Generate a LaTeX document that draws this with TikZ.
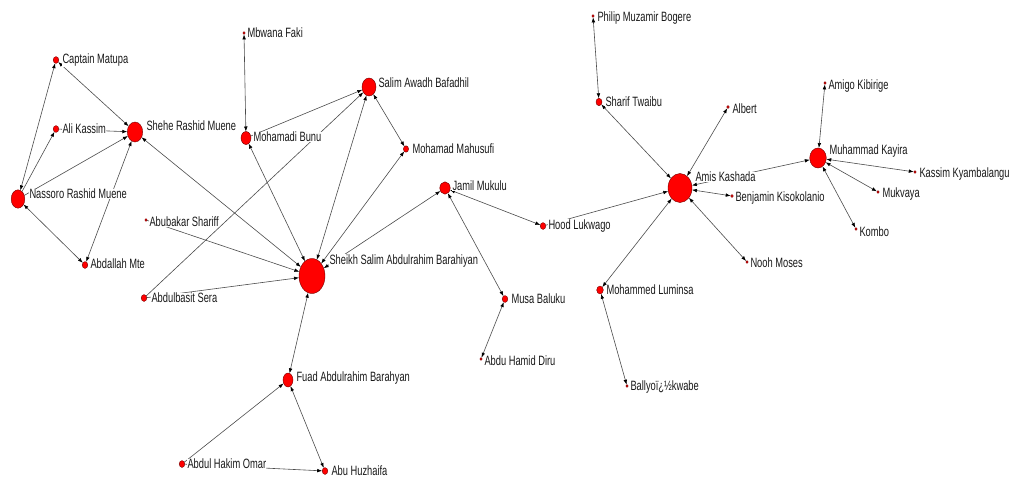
\documentclass[tikz,border=0pt]{standalone}
\usepackage{fontspec}
\setmainfont[FakeStretch=0.69]{Liberation Sans}
\usetikzlibrary{shapes.geometric,arrows.meta}
\pgfdeclarelayer{names}
\pgfsetlayers{main,names}

% one actor: name, x, y, half width, half height, label x, label y, label text
\newcommand\snactor[8]{%
  \node[actor,minimum width=2*#4,minimum height=2*#5] (#1) at (#2,#3) {};
  \begin{pgfonlayer}{names}
    \node[who] (#1-t) at (#6,#7) {#8};
  \end{pgfonlayer}}

\begin{document}
\begin{tikzpicture}[x=1pt,y=-1pt,
  actor/.style={ellipse,draw=black!55!red,fill=red,line width=0.4pt,inner sep=0pt,outer sep=0pt},
  who/.style={anchor=west,inner sep=0.3pt,fill=white,text=black!90,font=\fontsize{13.5}{15}\selectfont},
  tip/.tip={Latex[length=5pt,width=3.6pt,color=black]},
  tie/.style={draw=black!70,line width=0.6pt,-tip},
  mutual/.style={draw=black!70,line width=0.6pt,tip-tip},
]
\fill[white] (0,0) rectangle (1010,479);
\useasboundingbox (0,0) rectangle (1010,479);

% left cluster
\snactor{captain}{56}{60}{2.8}{3.4}{62}{60}{Captain Matupa}
\snactor{ali}{56}{129}{2.8}{3.4}{62}{129}{Ali Kassim}
\snactor{shehe}{135}{132}{7.7}{10}{146}{126}{Shehe Rashid Muene}
\snactor{nassoro}{18}{199}{6.8}{9.2}{29}{194}{Nassoro Rashid Muene}
\snactor{abdallah}{85}{265}{2.8}{3.4}{90}{264}{Abdallah Mte}
\snactor{abubakar}{146}{220}{1.2}{1.4}{149}{222}{Abubakar Shariff}
\snactor{abdulbasit}{144}{298}{2.8}{3.4}{151}{298}{Abdulbasit Sera}

% centre cluster
\snactor{mbwana}{244}{33}{1.2}{1.4}{247}{33}{Mbwana Faki}
\snactor{bunu}{246}{138}{5}{6.5}{253}{137}{Mohamadi Bunu}
\snactor{salim}{369}{87}{7}{9}{378}{83}{Salim Awadh Bafadhil}
\snactor{mahusufi}{406}{149}{2.6}{3.2}{412}{149}{Mohamad Mahusufi}
\snactor{jamil}{445}{188}{5.2}{6.2}{452}{186}{Jamil Mukulu}
\snactor{sheikh}{312}{276}{13}{17.5}{329}{261}{Sheikh Salim Abdulrahim Barahiyan}
\snactor{fuad}{288}{380}{5}{7}{296}{378}{Fuad Abdulrahim Barahyan}
\snactor{hakim}{182}{464}{2.8}{3.4}{187}{464}{Abdul Hakim Omar}
\snactor{abu}{325}{471}{2.8}{3.4}{331}{471}{Abu Huzhaifa}
\snactor{hood}{543}{226}{2.8}{3.4}{548}{226}{Hood Lukwago}
\snactor{musa}{505}{299}{2.8}{3.4}{511}{299}{Musa Baluku}
\snactor{diru}{481}{359}{1.2}{1.4}{484}{361}{Abdu Hamid Diru}

% right cluster
\snactor{amis}{680}{188}{12}{14.5}{695}{177}{Amis Kashada}
\snactor{luminsa}{600}{290}{3.3}{4}{606}{290}{Mohammed Luminsa}
\snactor{ballyo}{627}{386}{1.2}{1.4}{630}{387}{Ballyoï¿½kwabe}
\snactor{philip}{593}{16}{1.2}{1.4}{597}{18}{Philip Muzamir Bogere}
\snactor{sharif}{599}{102}{3}{3.7}{605}{102}{Sharif Twaibu}
\snactor{albert}{728}{107}{1.3}{1.5}{732}{109}{Albert}
\snactor{kayira}{818}{158}{8.3}{10}{829}{151}{Muhammad Kayira}
\snactor{amigo}{825}{83}{1.2}{1.4}{828}{86}{Amigo Kibirige}
\snactor{kassim}{915}{172}{1.2}{1.4}{919}{174}{Kassim Kyambalangu}
\snactor{mukvaya}{878}{192}{1.2}{1.4}{882}{194}{Mukvaya}
\snactor{kombo}{856}{229}{1.2}{1.4}{859}{232}{Kombo}
\snactor{benjamin}{732}{196}{1.3}{1.5}{735}{198}{Benjamin Kisokolanio}
\snactor{nooh}{747}{262}{1.2}{1.4}{750}{263}{Nooh Moses}

% ties
\draw[mutual] (nassoro) -- (captain);
\draw[tie] (nassoro) -- (ali);
\draw[tie] (ali) -- (shehe);
\draw[mutual] (captain) -- (shehe);
\draw[tie] (nassoro) -- (shehe);
\draw[mutual] (abdallah) -- (shehe);
\draw[mutual] (nassoro) -- (abdallah);
\draw[mutual] (sheikh) -- (shehe);
\draw[mutual] (mbwana) -- (bunu);
\draw[tie] (bunu) -- (salim);
\draw[tie] (abdulbasit) -- (salim);
\draw[mutual] (sheikh) -- (bunu);
\draw[mutual] (sheikh) -- (salim);
\draw[mutual] (salim) -- (mahusufi);
\draw[mutual] (mahusufi) -- (sheikh);
\draw[tie] (abubakar) -- (sheikh);
\draw[tie] (abdulbasit) -- (sheikh);
\draw[mutual] (sheikh) -- (jamil);
\draw[mutual] (sheikh) -- (fuad);
\draw[tie] (hakim) -- (fuad);
\draw[tie] (hakim) -- (abu);
\draw[mutual] (fuad) -- (abu);
\draw[mutual] (jamil) -- (musa);
\draw[mutual] (diru) -- (musa);
\draw[mutual] (jamil) -- (hood);
\draw[tie] (hood) -- (amis);
\draw[mutual] (luminsa) -- (amis);
\draw[mutual] (ballyo) -- (luminsa);
\draw[mutual] (philip) -- (sharif);
\draw[mutual] (sharif) -- (amis);
\draw[mutual] (amis) -- (albert);
\draw[mutual] (amis) -- (kayira);
\draw[mutual] (amis) -- (benjamin);
\draw[mutual] (amis) -- (nooh);
\draw[mutual] (kayira) -- (amigo);
\draw[mutual] (kayira) -- (kassim);
\draw[mutual] (kayira) -- (mukvaya);
\draw[mutual] (kayira) -- (kombo);
\end{tikzpicture}
\end{document}
